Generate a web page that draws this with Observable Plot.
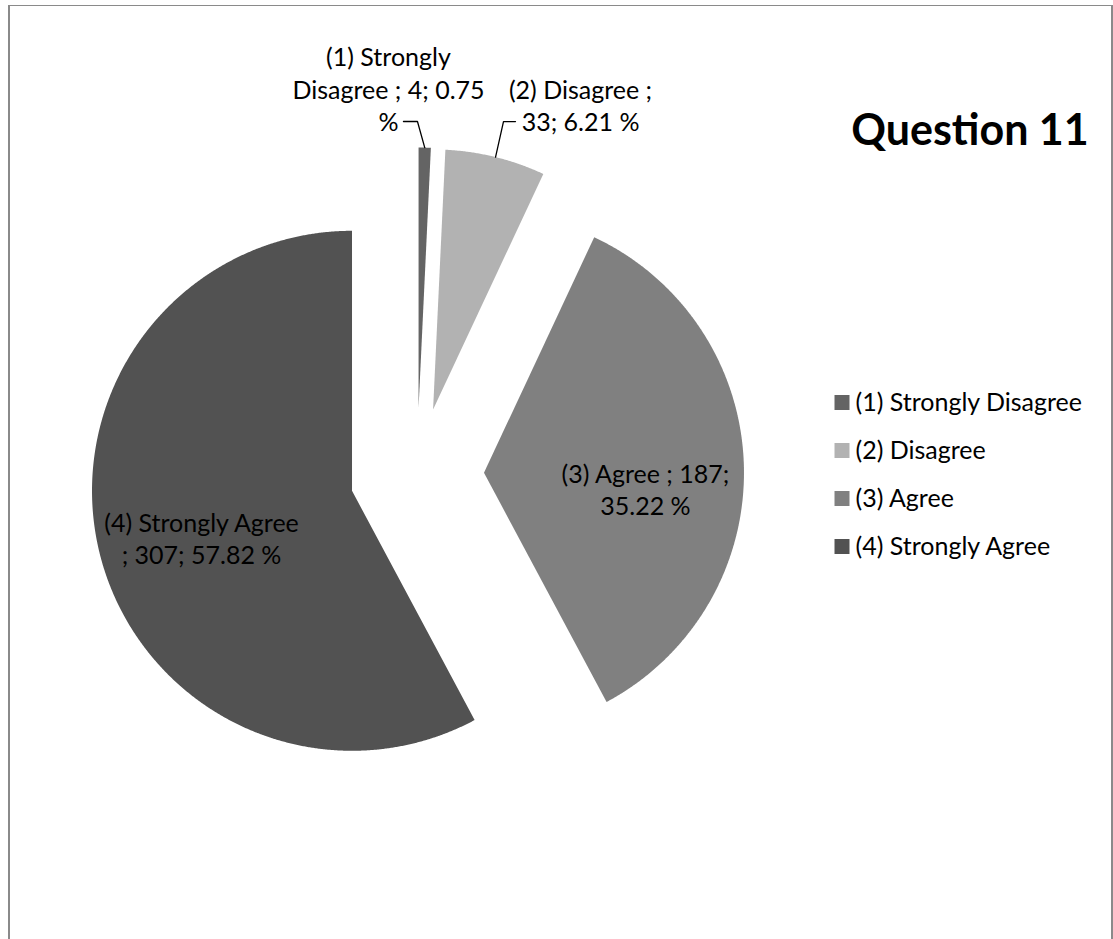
<!DOCTYPE html>
<html><head><meta charset="utf-8">
<script src="https://cdn.jsdelivr.net/npm/d3@7"></script>
<script src="https://cdn.jsdelivr.net/npm/@observablehq/plot@0.6"></script>
<style>
html,body{margin:0;padding:0;background:#fff;overflow:hidden;width:1113px;height:939px}
#frame{position:absolute;left:8px;top:5px;width:1101px;height:1000px;border-left:2px solid #8a8a8a;border-right:2px solid #8a8a8a;border-top:1px solid #8a8a8a;box-sizing:content-box}
#pie{position:absolute;left:0;top:0}
#legend{position:absolute;left:820px;top:370px}
#title{position:absolute;left:820px;width:300px;top:107px;text-align:center;font-family:Lato;font-weight:bold;font-size:43px;line-height:1;color:#000}
</style></head><body>
<div id="frame"></div>
<div id="pie"></div>
<div id="title">Question 11</div>
<div id="legend"></div>
<script>
// ---- data ----
const categories = ["(1) Strongly Disagree", "(2) Disagree", "(3) Agree", "(4) Strongly Agree"];
const counts = [4, 33, 187, 307];
const percents = [0.75, 6.21, 35.22, 57.82];
const colors = ["#646464", "#b2b2b2", "#808080", "#525252"];
const wrapChars = [18, 14, 18, 18];

// ---- layout (label placement relative to each exploded slice) ----
const labelLayout = [
  {k: 1.234, shift: -6.74, leaderK: 1.10, leaderShift: -1.58, hook: -14},
  {k: 1.303, shift: 11.9, leaderK: 1.14, leaderShift: -0.16, hook: 12},
  {k: 0.624, shift: 7.1},
  {k: 0.606, shift: -3.17}
];
const Rpx = 260, cx = 416.5, cy = 474, explode = 67 / Rpx;
const deg = Math.PI / 180;

function wrap(str, n) {
  const words = str.split(" ");
  const lines = [];
  let cur = "";
  for (const w of words) {
    const t = cur ? cur + " " + w : w;
    if (t.length > n && cur) { lines.push(cur); cur = w; } else cur = t;
  }
  if (cur) lines.push(cur);
  return lines.join("\n");
}

const arcs = d3.pie().sort(null).value(d => d)(counts);
const slices = arcs.map((a, i) => {
  const mid = (a.startAngle + a.endAngle) / 2;
  return {i, cat: categories[i], a0: a.startAngle, a1: a.endAngle, mid,
    ox: explode * Math.sin(mid), oy: explode * Math.cos(mid)};
});

const piePts = slices.flatMap(s => {
  const pts = [{cat: s.cat, x: s.ox, y: s.oy}];
  const n = Math.max(2, Math.ceil((s.a1 - s.a0) / (0.25 * deg)));
  for (let k = 0; k <= n; k++) {
    const t = s.a0 + (s.a1 - s.a0) * k / n;
    pts.push({cat: s.cat, x: s.ox + Math.sin(t), y: s.oy + Math.cos(t)});
  }
  pts.push({cat: s.cat, x: s.ox, y: s.oy});
  return pts;
});

const labels = slices.map(s => {
  const L = labelLayout[s.i];
  const a = s.mid + L.shift * deg;
  const txt = `${categories[s.i]} ; ${counts[s.i]}; ${percents[s.i].toFixed(2)} %`;
  return {x: s.ox + L.k * Math.sin(a), y: s.oy + L.k * Math.cos(a), text: wrap(txt, wrapChars[s.i])};
});

const leaders = slices.filter(s => labelLayout[s.i].leaderK).flatMap(s => {
  const L = labelLayout[s.i];
  const a = s.mid + L.leaderShift * deg;
  const ex = s.ox + L.leaderK * Math.sin(a), ey = s.oy + L.leaderK * Math.cos(a);
  return [
    {id: s.i, x: s.ox + Math.sin(s.mid), y: s.oy + Math.cos(s.mid)},
    {id: s.i, x: ex, y: ey},
    {id: s.i, x: ex + L.hook / Rpx, y: ey}
  ];
});

const pie = Plot.plot({
  width: 1113, height: 939, margin: 0,
  x: {domain: [-1, 1], range: [cx - Rpx, cx + Rpx], axis: null},
  y: {domain: [-1, 1], range: [cy + Rpx, cy - Rpx], axis: null},
  color: {domain: categories, range: colors},
  style: {fontFamily: "Lato", background: "transparent", overflow: "visible"},
  marks: [
    Plot.line(piePts, {x: "x", y: "y", z: "cat", fill: "cat", stroke: "none", curve: "linear"}),
    Plot.line(leaders, {x: "x", y: "y", z: "id", stroke: "#000", strokeWidth: 1.3}),
    Plot.text(labels, {x: "x", y: "y", text: "text", fontSize: 25, lineHeight: 1.3, fill: "#000", textAnchor: "middle"})
  ]
});
document.getElementById("pie").appendChild(pie);

const legend = Plot.plot({
  width: 290, height: 200, margin: 0,
  y: {type: "point", domain: categories, range: [31.5, 176.5], padding: 0, axis: null},
  color: {domain: categories, range: colors},
  style: {fontFamily: "Lato", background: "transparent", overflow: "visible"},
  marks: [
    Plot.dot(categories, {y: d => d, frameAnchor: "left", dx: 21.5, symbol: "square", r: 8.46, fill: d => d, stroke: "none"}),
    Plot.text(categories, {y: d => d, frameAnchor: "left", dx: 35, textAnchor: "start", text: d => d, fontSize: 25, fill: "#000"})
  ]
});
document.getElementById("legend").appendChild(legend);
</script>
</body></html>
